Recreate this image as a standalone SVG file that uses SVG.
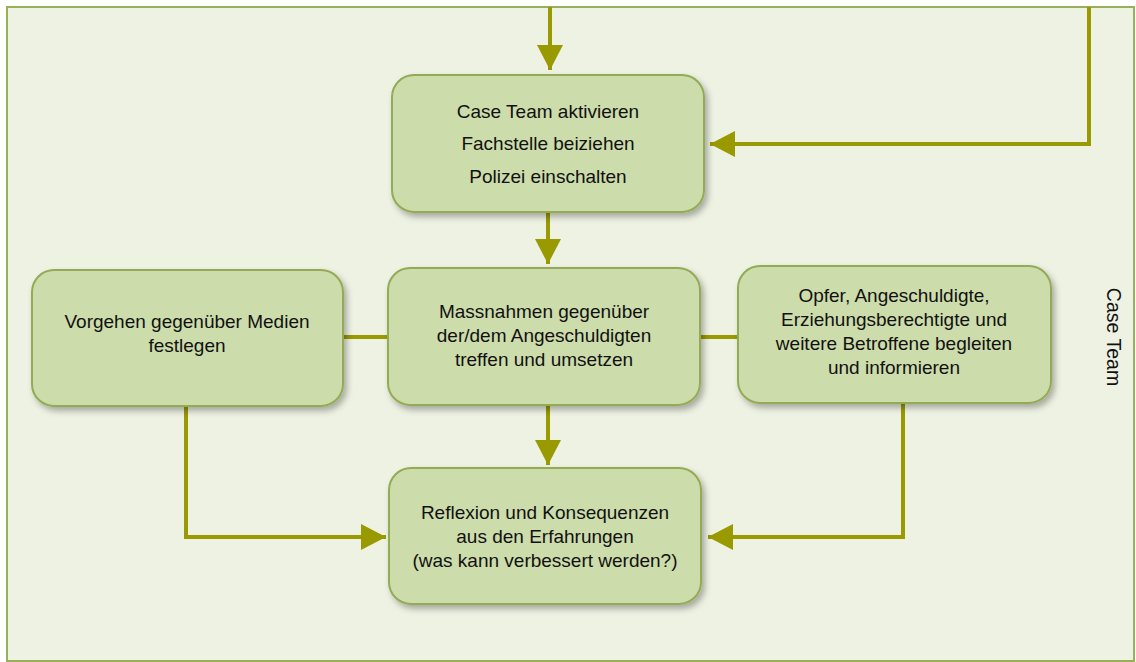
<svg xmlns="http://www.w3.org/2000/svg" width="1136" height="662" viewBox="0 0 1136 662">
<style>
.node rect{fill:#cddcab;stroke:#93ab55;stroke-width:2;filter:url(#sh)}
.node text{font-family:"Liberation Sans",Arial,sans-serif;font-size:19px;fill:#111;text-anchor:middle}
.conn{fill:none;stroke:#999900;stroke-width:4}
.lbl{font-family:"Liberation Sans",Arial,sans-serif;font-size:19.5px;fill:#111}
</style>
<defs>
<filter id="sh" x="-10%" y="-10%" width="125%" height="130%">
<feDropShadow dx="3" dy="4" stdDeviation="3" flood-color="#000" flood-opacity="0.3"/>
</filter>
<marker id="ah" markerWidth="26" markerHeight="26" refX="25" refY="13" orient="auto" markerUnits="userSpaceOnUse">
<path d="M0,0 L25,13 L0,26 Z" fill="#999900"/>
</marker>
</defs>
<rect x="0" y="0" width="1136" height="662" fill="#ffffff"/>
<rect x="7" y="7" width="1127" height="654" fill="#eef2e3" stroke="#9aaf5a" stroke-width="2"/>
<text class="lbl" transform="translate(1107,337) rotate(90)" text-anchor="middle">Case Team</text>
<g id="connectors">
<path class="conn" d="M550,7 V70" marker-end="url(#ah)"/>
<path class="conn" d="M1089,7 V144 H710" marker-end="url(#ah)"/>
<path class="conn" d="M548,212 V264" marker-end="url(#ah)"/>
<path class="conn" d="M343,337 H388"/>
<path class="conn" d="M700,337 H738"/>
<path class="conn" d="M548,405 V465" marker-end="url(#ah)"/>
<path class="conn" d="M186,406 V537 H386" marker-end="url(#ah)"/>
<path class="conn" d="M903,403 V537 H708" marker-end="url(#ah)"/>
</g>
<g id="n1" class="node">
<rect x="392" y="75" width="312" height="137" rx="22"/>
<text x="548" y="118">Case Team aktivieren</text>
<text x="548" y="150">Fachstelle beiziehen</text>
<text x="548" y="183">Polizei einschalten</text>
</g>
<g id="n2" class="node">
<rect x="388" y="268" width="312" height="137" rx="22"/>
<text x="544" y="318">Massnahmen gegenüber</text>
<text x="544" y="342">der/dem Angeschuldigten</text>
<text x="544" y="366">treffen und umsetzen</text>
</g>
<g id="n3" class="node">
<rect x="32" y="270" width="311" height="136" rx="22"/>
<text x="187" y="328">Vorgehen gegenüber Medien</text>
<text x="187" y="352">festlegen</text>
</g>
<g id="n4" class="node">
<rect x="738" y="266" width="313" height="137" rx="22"/>
<text x="894" y="302">Opfer, Angeschuldigte,</text>
<text x="894" y="326">Erziehungsberechtigte und</text>
<text x="894" y="350">weitere Betroffene begleiten</text>
<text x="894" y="374">und informieren</text>
</g>
<g id="n5" class="node">
<rect x="389" y="468" width="312" height="136" rx="22"/>
<text x="545" y="519">Reflexion und Konsequenzen</text>
<text x="545" y="543">aus den Erfahrungen</text>
<text x="545" y="567">(was kann verbessert werden?)</text>
</g>
</svg>
